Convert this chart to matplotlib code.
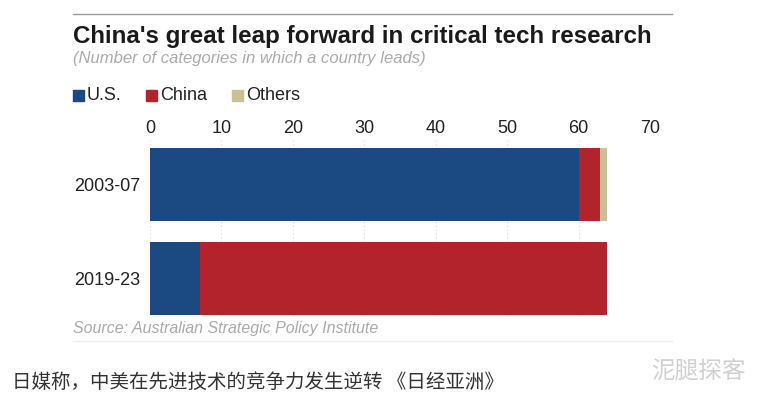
import matplotlib
matplotlib.use("Agg")
from matplotlib import pyplot as plt
from matplotlib.patches import Rectangle

periods = ["2003-07", "2019-23"]
us = [60, 7]
china = [3, 57]
others = [1, 0]

series_names = ["U.S.", "China", "Others"]
colors = ["#1b4a82", "#b3232c", "#cbbf95"]

plt.rcParams['font.family'] = ['Liberation Sans', 'DejaVu Sans']

fig = plt.figure(figsize=(7.58, 4.0), dpi=100)
ax = fig.add_axes([150 / 758, 1 - 316 / 400, 500 / 758, 176 / 400])

ypos = list(range(len(periods)))
left = [0] * len(periods)
for vals, name, c in zip([us, china, others], series_names, colors):
    ax.barh(ypos, vals, left=left, height=0.78, color=c, zorder=3, label=name)
    left = [l + v for l, v in zip(left, vals)]

ax.set_xlim(0, 70)
ax.set_ylim(1.399, -0.473)
ax.set_xticks(range(0, 71, 10))
ax.set_yticks(ypos)
ax.set_yticklabels(periods)
ax.xaxis.tick_top()
ax.tick_params(axis="both", length=0, labelsize=13, colors="#222222")
ax.tick_params(axis="x", pad=2)
ax.tick_params(axis="y", pad=7)
ax.grid(axis="x", linestyle=(0, (1, 2.5)), color="#d8d8d8", linewidth=0.8, zorder=0)
for s in ax.spines.values():
    s.set_visible(False)

# header
fig.add_artist(plt.Line2D([73 / 758, 672 / 758], [1 - 14 / 400] * 2, color="#999999", lw=1))
fig.text(73 / 758, 1 - 36 / 400, "China's great leap forward in critical tech research",
         fontsize=17.4, fontweight="bold", color="#1a1a1a", va="center")
fig.text(73 / 758, 1 - 58 / 400, "(Number of categories in which a country leads)",
         fontsize=12, fontstyle="italic", color="#aaaaaa", va="center")

# legend
lx = [73, 146, 232]
for x, name, c in zip(lx, series_names, colors):
    fig.add_artist(Rectangle((x / 758, 1 - 101 / 400), 11 / 758, 11 / 400, color=c))
    fig.text((x + 14) / 758, 1 - 95 / 400, name, fontsize=13, color="#222222", va="center")

fig.text(73 / 758, 1 - 329 / 400, "Source: Australian Strategic Policy Institute",
         fontsize=11.5, fontstyle="italic", color="#aaaaaa", va="center")
fig.add_artist(plt.Line2D([73 / 758, 672 / 758], [1 - 341 / 400] * 2, color="#eeeeee", lw=1))

fig.text(12 / 758, 1 - 382 / 400, "日媒称，中美在先进技术的竞争力发生逆转 《日经亚洲》",
         fontsize=14, color="#333333", va="center",
         family=['Noto Sans CJK SC', 'DejaVu Sans'])
fig.text(746 / 758, 1 - 372 / 400, "泥腿探客", fontsize=17, color="#d0d0d0", va="center",
         ha="right", family=['Noto Sans CJK SC', 'DejaVu Sans'])

fig.savefig("out.png", dpi=100)
